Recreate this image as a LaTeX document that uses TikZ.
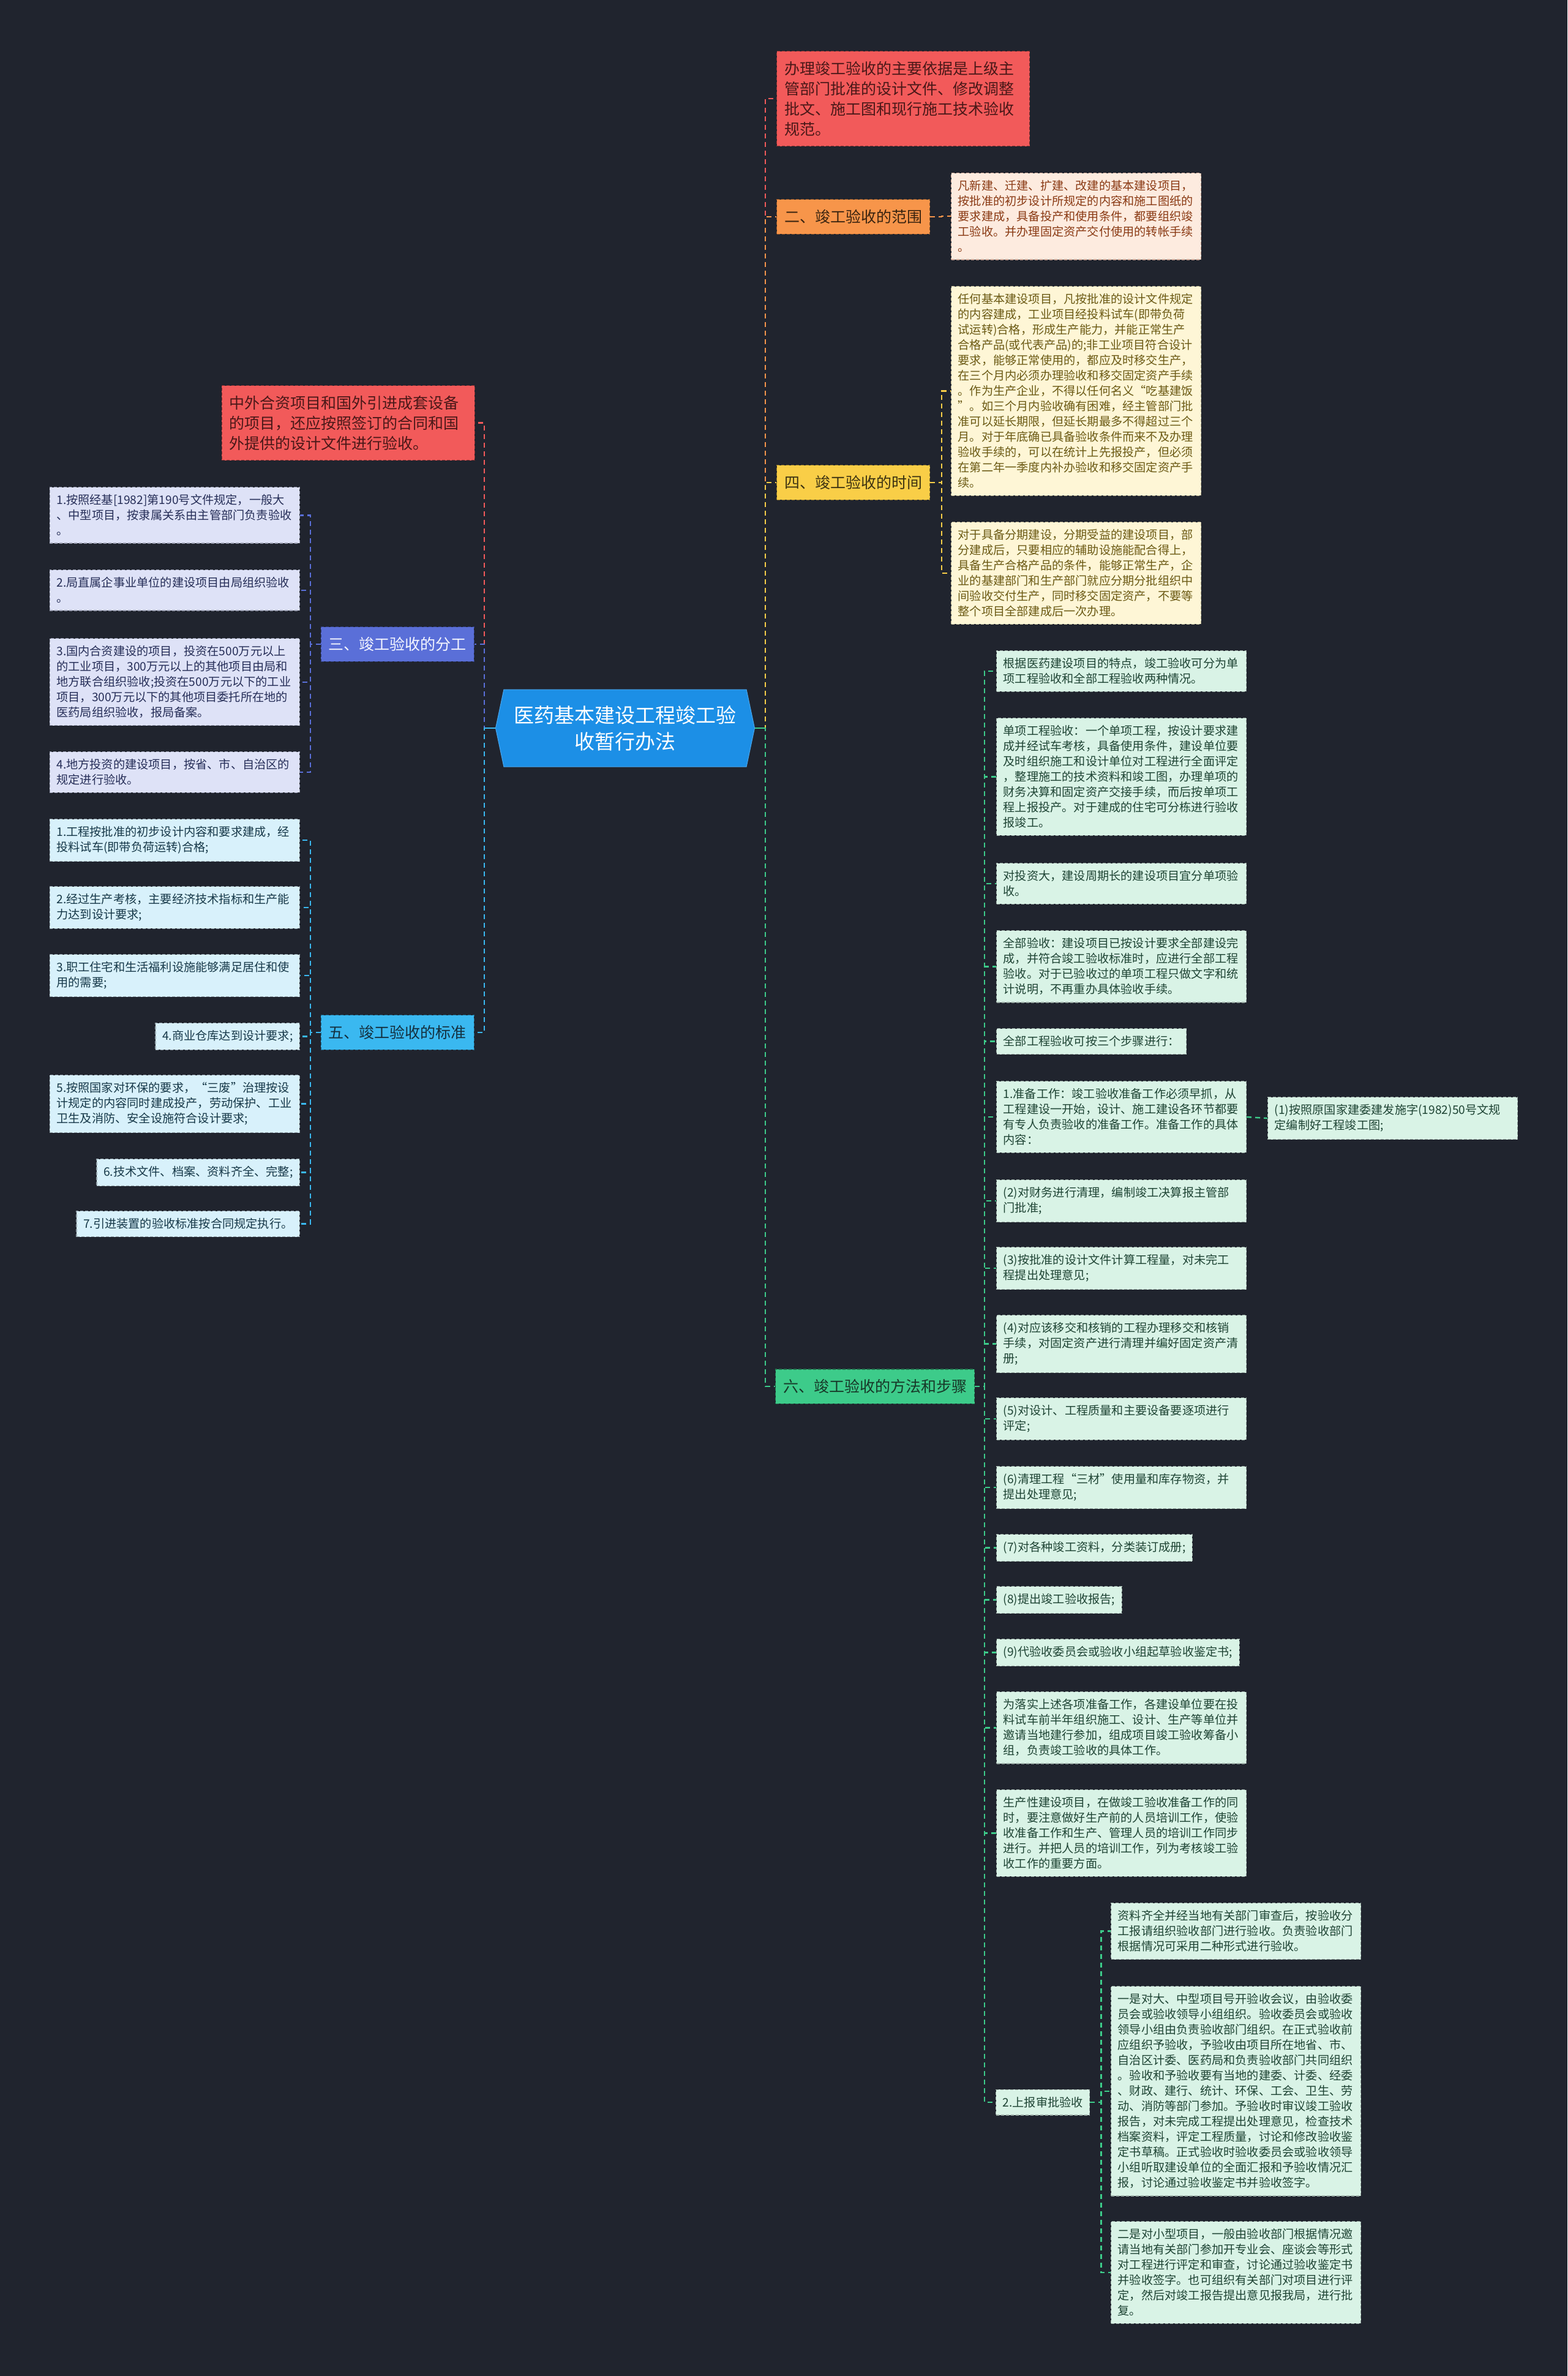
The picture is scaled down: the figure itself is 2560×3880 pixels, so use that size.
\documentclass[tikz,border=0pt]{standalone}
\usepackage{fontspec}
\setmainfont{Noto Sans CJK SC}
\usetikzlibrary{shapes.symbols}
\definecolor{bg}{HTML}{20242E}
\definecolor{rootF}{HTML}{1C8FE6}
\definecolor{redF}{HTML}{F25A5A}
\definecolor{redT}{HTML}{4A1818}
\definecolor{oraF}{HTML}{F7954A}
\definecolor{oraT}{HTML}{3A2410}
\definecolor{oraL}{HTML}{FDEBDF}
\definecolor{oraLT}{HTML}{8A3A14}
\definecolor{yelF}{HTML}{F9CE47}
\definecolor{yelT}{HTML}{3D3312}
\definecolor{yelL}{HTML}{FEF6D6}
\definecolor{yelLT}{HTML}{6B5A14}
\definecolor{grnF}{HTML}{3DCB8A}
\definecolor{grnT}{HTML}{173828}
\definecolor{grnL}{HTML}{D9F3E6}
\definecolor{grnLT}{HTML}{1E4434}
\definecolor{indF}{HTML}{5A6FD8}
\definecolor{indT}{HTML}{F4F6FF}
\definecolor{indL}{HTML}{DEE2F7}
\definecolor{indLT}{HTML}{262E58}
\definecolor{skyF}{HTML}{3AB8F0}
\definecolor{skyT}{HTML}{14303F}
\definecolor{skyL}{HTML}{D8F1FB}
\definecolor{skyLT}{HTML}{163848}
\tikzset{
  conn/.style={draw=#1, line width=1.2pt, dash pattern=on 4pt off 3pt},
  box/.style={draw=#1, line width=0.6pt, dash pattern=on 2.5pt off 1.5pt, rectangle},
  small/.style={font=\fontsize{9.6}{12.5}\selectfont, inner xsep=5.5pt, inner ysep=6pt, align=left},
  big/.style={font=\fontsize{12.5}{16.5}\selectfont, inner xsep=6.25pt, inner ysep=8.25pt, align=left},
  wide/.style={text width=193pt},
  redbig/.style={big, fill=redF, text=redT, box=redF!55!black, text width=194pt},
  orahead/.style={big, fill=oraF, text=oraT, box=oraF!55!black},
  yelhead/.style={big, fill=yelF, text=yelT, box=yelF!55!black},
  grnhead/.style={big, fill=grnF, text=grnT, box=grnF!55!black},
  indhead/.style={big, fill=indF, text=indT, box=indF!55!black},
  skyhead/.style={big, fill=skyF, text=skyT, box=skyF!55!black},
  oraleaf/.style={small, fill=oraL, text=oraLT, box=oraLT!45!white},
  yelleaf/.style={small, fill=yelL, text=yelLT, box=yelLT!45!white},
  grnleaf/.style={small, fill=grnL, text=grnLT, box=grnLT!45!white},
  indleaf/.style={small, fill=indL, text=indLT, box=indLT!45!white},
  skyleaf/.style={small, fill=skyL, text=skyLT, box=skyLT!45!white},
}
\begin{document}
\begin{tikzpicture}[x=0.5pt,y=-0.5pt]
\fill[bg] (0,0) rectangle (2560,3880);
\useasboundingbox (0,0) rectangle (2560,3880);

% root
\node[signal, signal to=east and west, signal pointer angle=156, fill=rootF, draw=rootF!80!white, line width=0.5pt,
  minimum width=211.5pt, minimum height=63pt, inner sep=0pt, text=white,
  font=\fontsize{16.5}{21.5}\selectfont, align=center] (root) at (1021,1189) {医药基本建设工程竣工验\\收暂行办法};

% ---------- right side ----------
\node[redbig, anchor=north west] (A) at (1268,83) {办理竣工验收的主要依据是上级主\\管部门批准的设计文件、修改调整\\批文、施工图和现行施工技术验收\\规范。};

\node[orahead, anchor=west] (B) at (1268,354) {二、竣工验收的范围};
\node[oraleaf, wide, anchor=north west] (B1) at (1553,282) {凡新建、迁建、扩建、改建的基本建设项目，\\按批准的初步设计所规定的内容和施工图纸的\\要求建成，具备投产和使用条件，都要组织竣\\工验收。并办理固定资产交付使用的转帐手续\\。};

\node[yelhead, anchor=west] (C) at (1268,788) {四、竣工验收的时间};
\node[yelleaf, wide, anchor=north west] (C1) at (1553,467) {任何基本建设项目，凡按批准的设计文件规定\\的内容建成，工业项目经投料试车(即带负荷\\试运转)合格，形成生产能力，并能正常生产\\合格产品(或代表产品)的;非工业项目符合设计\\要求，能够正常使用的，都应及时移交生产，\\在三个月内必须办理验收和移交固定资产手续\\。作为生产企业，不得以任何名义“吃基建饭\\”。如三个月内验收确有困难，经主管部门批\\准可以延长期限，但延长期最多不得超过三个\\月。对于年底确已具备验收条件而来不及办理\\验收手续的，可以在统计上先报投产，但必须\\在第二年一季度内补办验收和移交固定资产手\\续。};
\node[yelleaf, wide, anchor=north west] (C2) at (1553,852) {对于具备分期建设，分期受益的建设项目，部\\分建成后，只要相应的辅助设施能配合得上，\\具备生产合格产品的条件，能够正常生产，企\\业的基建部门和生产部门就应分期分批组织中\\间验收交付生产，同时移交固定资产，不要等\\整个项目全部建成后一次办理。};

\node[grnhead, anchor=west] (D) at (1266,2264) {六、竣工验收的方法和步骤};
\node[grnleaf, wide, anchor=north west] (D1) at (1627,1062) {根据医药建设项目的特点，竣工验收可分为单\\项工程验收和全部工程验收两种情况。};
\node[grnleaf, wide, anchor=north west] (D2) at (1627,1172) {单项工程验收：一个单项工程，按设计要求建\\成并经试车考核，具备使用条件，建设单位要\\及时组织施工和设计单位对工程进行全面评定\\，整理施工的技术资料和竣工图，办理单项的\\财务决算和固定资产交接手续，而后按单项工\\程上报投产。对于建成的住宅可分栋进行验收\\报竣工。};
\node[grnleaf, wide, anchor=north west] (D3) at (1627,1409) {对投资大，建设周期长的建设项目宜分单项验\\收。};
\node[grnleaf, wide, anchor=north west] (D4) at (1627,1519) {全部验收：建设项目已按设计要求全部建设完\\成，并符合竣工验收标准时，应进行全部工程\\验收。对于已验收过的单项工程只做文字和统\\计说明，不再重办具体验收手续。};
\node[grnleaf, anchor=north west] (D5) at (1627,1679) {全部工程验收可按三个步骤进行：};
\node[grnleaf, wide, anchor=north west] (D6) at (1627,1765) {1.准备工作：竣工验收准备工作必须早抓，从\\工程建设一开始，设计、施工建设各环节都要\\有专人负责验收的准备工作。准备工作的具体\\内容：};
\node[grnleaf, wide, anchor=north west] (D6a) at (2070,1791) {(1)按照原国家建委建发施字(1982)50号文规\\定编制好工程竣工图;};
\node[grnleaf, wide, anchor=north west] (D7) at (1627,1926) {(2)对财务进行清理，编制竣工决算报主管部\\门批准;};
\node[grnleaf, wide, anchor=north west] (D8) at (1627,2036) {(3)按批准的设计文件计算工程量，对未完工\\程提出处理意见;};
\node[grnleaf, wide, anchor=north west] (D9) at (1627,2147) {(4)对应该移交和核销的工程办理移交和核销\\手续，对固定资产进行清理并编好固定资产清\\册;};
\node[grnleaf, wide, anchor=north west] (D10) at (1627,2282) {(5)对设计、工程质量和主要设备要逐项进行\\评定;};
\node[grnleaf, wide, anchor=north west] (D11) at (1627,2394) {(6)清理工程“三材”使用量和库存物资，并\\提出处理意见;};
\node[grnleaf, anchor=north west] (D12) at (1627,2505) {(7)对各种竣工资料，分类装订成册;};
\node[grnleaf, anchor=north west] (D13) at (1627,2590) {(8)提出竣工验收报告;};
\node[grnleaf, anchor=north west] (D14) at (1627,2676) {(9)代验收委员会或验收小组起草验收鉴定书;};
\node[grnleaf, wide, anchor=north west] (D15) at (1627,2762) {为落实上述各项准备工作，各建设单位要在投\\料试车前半年组织施工、设计、生产等单位并\\邀请当地建行参加，组成项目竣工验收筹备小\\组，负责竣工验收的具体工作。};
\node[grnleaf, wide, anchor=north west] (D16) at (1627,2922) {生产性建设项目，在做竣工验收准备工作的同\\时，要注意做好生产前的人员培训工作，使验\\收准备工作和生产、管理人员的培训工作同步\\进行。并把人员的培训工作，列为考核竣工验\\收工作的重要方面。};
\node[grnleaf, anchor=west] (D17) at (1626,3433) {2.上报审批验收};
\node[grnleaf, wide, anchor=north west] (D17a) at (1814,3107) {资料齐全并经当地有关部门审查后，按验收分\\工报请组织验收部门进行验收。负责验收部门\\根据情况可采用二种形式进行验收。};
\node[grnleaf, wide, anchor=north west] (D17b) at (1814,3243) {一是对大、中型项目号开验收会议，由验收委\\员会或验收领导小组组织。验收委员会或验收\\领导小组由负责验收部门组织。在正式验收前\\应组织予验收，予验收由项目所在地省、市、\\自治区计委、医药局和负责验收部门共同组织\\。验收和予验收要有当地的建委、计委、经委\\、财政、建行、统计、环保、工会、卫生、劳\\动、消防等部门参加。予验收时审议竣工验收\\报告，对未完成工程提出处理意见，检查技术\\档案资料，评定工程质量，讨论和修改验收鉴\\定书草稿。正式验收时验收委员会或验收领导\\小组听取建设单位的全面汇报和予验收情况汇\\报，讨论通过验收鉴定书并验收签字。};
\node[grnleaf, wide, anchor=north west] (D17c) at (1814,3627) {二是对小型项目，一般由验收部门根据情况邀\\请当地有关部门参加开专业会、座谈会等形式\\对工程进行评定和审查，讨论通过验收鉴定书\\并验收签字。也可组织有关部门对项目进行评\\定，然后对竣工报告提出意见报我局，进行批\\复。};

% ---------- left side ----------
\node[redbig, anchor=north east] (E) at (776,629) {中外合资项目和国外引进成套设备\\的项目，还应按照签订的合同和国\\外提供的设计文件进行验收。};

\node[indhead, anchor=east] (F) at (775,1052) {三、竣工验收的分工};
\node[indleaf, wide, anchor=north east] (F1) at (490,795) {1.按照经基[1982]第190号文件规定，一般大\\、中型项目，按隶属关系由主管部门负责验收\\。};
\node[indleaf, wide, anchor=north east] (F2) at (490,930) {2.局直属企事业单位的建设项目由局组织验收\\。};
\node[indleaf, wide, anchor=north east] (F3) at (490,1042) {3.国内合资建设的项目，投资在500万元以上\\的工业项目，300万元以上的其他项目由局和\\地方联合组织验收;投资在500万元以下的工业\\项目，300万元以下的其他项目委托所在地的\\医药局组织验收，报局备案。};
\node[indleaf, wide, anchor=north east] (F4) at (490,1227) {4.地方投资的建设项目，按省、市、自治区的\\规定进行验收。};

\node[skyhead, anchor=east] (G) at (775,1686) {五、竣工验收的标准};
\node[skyleaf, wide, anchor=north east] (G1) at (490,1337) {1.工程按批准的初步设计内容和要求建成，经\\投料试车(即带负荷运转)合格;};
\node[skyleaf, wide, anchor=north east] (G2) at (490,1447) {2.经过生产考核，主要经济技术指标和生产能\\力达到设计要求;};
\node[skyleaf, wide, anchor=north east] (G3) at (490,1558) {3.职工住宅和生活福利设施能够满足居住和使\\用的需要;};
\node[skyleaf, anchor=north east] (G4) at (490,1670) {4.商业仓库达到设计要求;};
\node[skyleaf, wide, anchor=north east] (G5) at (490,1755) {5.按照国家对环保的要求，“三废”治理按设\\计规定的内容同时建成投产，劳动保护、工业\\卫生及消防、安全设施符合设计要求;};
\node[skyleaf, anchor=north east] (G6) at (490,1892) {6.技术文件、档案、资料齐全、完整;};
\node[skyleaf, anchor=north east] (G7) at (490,1977) {7.引进装置的验收标准按合同规定执行。};

% ---------- connectors ----------
\draw[conn=redF] (root.east) -- ++(8.5pt,0pt) |- (A.west);
\draw[conn=oraF] (root.east) -- ++(8.5pt,0pt) |- (B.west);
\draw[conn=yelF] (root.east) -- ++(8.5pt,0pt) |- (C.west);
\draw[conn=grnF] (root.east) -- ++(8.5pt,0pt) |- (D.west);
\draw[line width=1.2pt, grnF] (root.east) -- ++(8.5pt,0pt);

\draw[conn=redF] (root.west) -- ++(-9pt,0pt) |- (E.east);
\draw[conn=indF] (root.west) -- ++(-9pt,0pt) |- (F.east);
\draw[conn=skyF] (root.west) -- ++(-9pt,0pt) |- (G.east);
\draw[line width=1.2pt, skyF] (root.west) -- ++(-9pt,0pt);

\draw[conn=oraF] (B.east) -- ++(9.5pt,0pt) |- (B1.west);
\foreach \c in {C1,C2} \draw[conn=yelF] (C.east) -- ++(9.5pt,0pt) |- (\c.west);
\foreach \c in {D1,D2,D3,D4,D5,D6,D7,D8,D9,D10,D11,D12,D13,D14,D15,D16,D17}
  \draw[conn=grnF] (D.east) -- ++(8pt,0pt) |- (\c.west);
\draw[conn=grnF] (D6.east) -- (D6a.west);
\foreach \c in {D17a,D17b,D17c} \draw[conn=grnF] (D17.east) -- ++(9pt,0pt) |- (\c.west);

\foreach \c in {F1,F2,F3,F4} \draw[conn=indF] (F.west) -- ++(-8.5pt,0pt) |- (\c.east);
\foreach \c in {G1,G2,G3,G4,G5,G6,G7} \draw[conn=skyF] (G.west) -- ++(-8.5pt,0pt) |- (\c.east);
\end{tikzpicture}
\end{document}
